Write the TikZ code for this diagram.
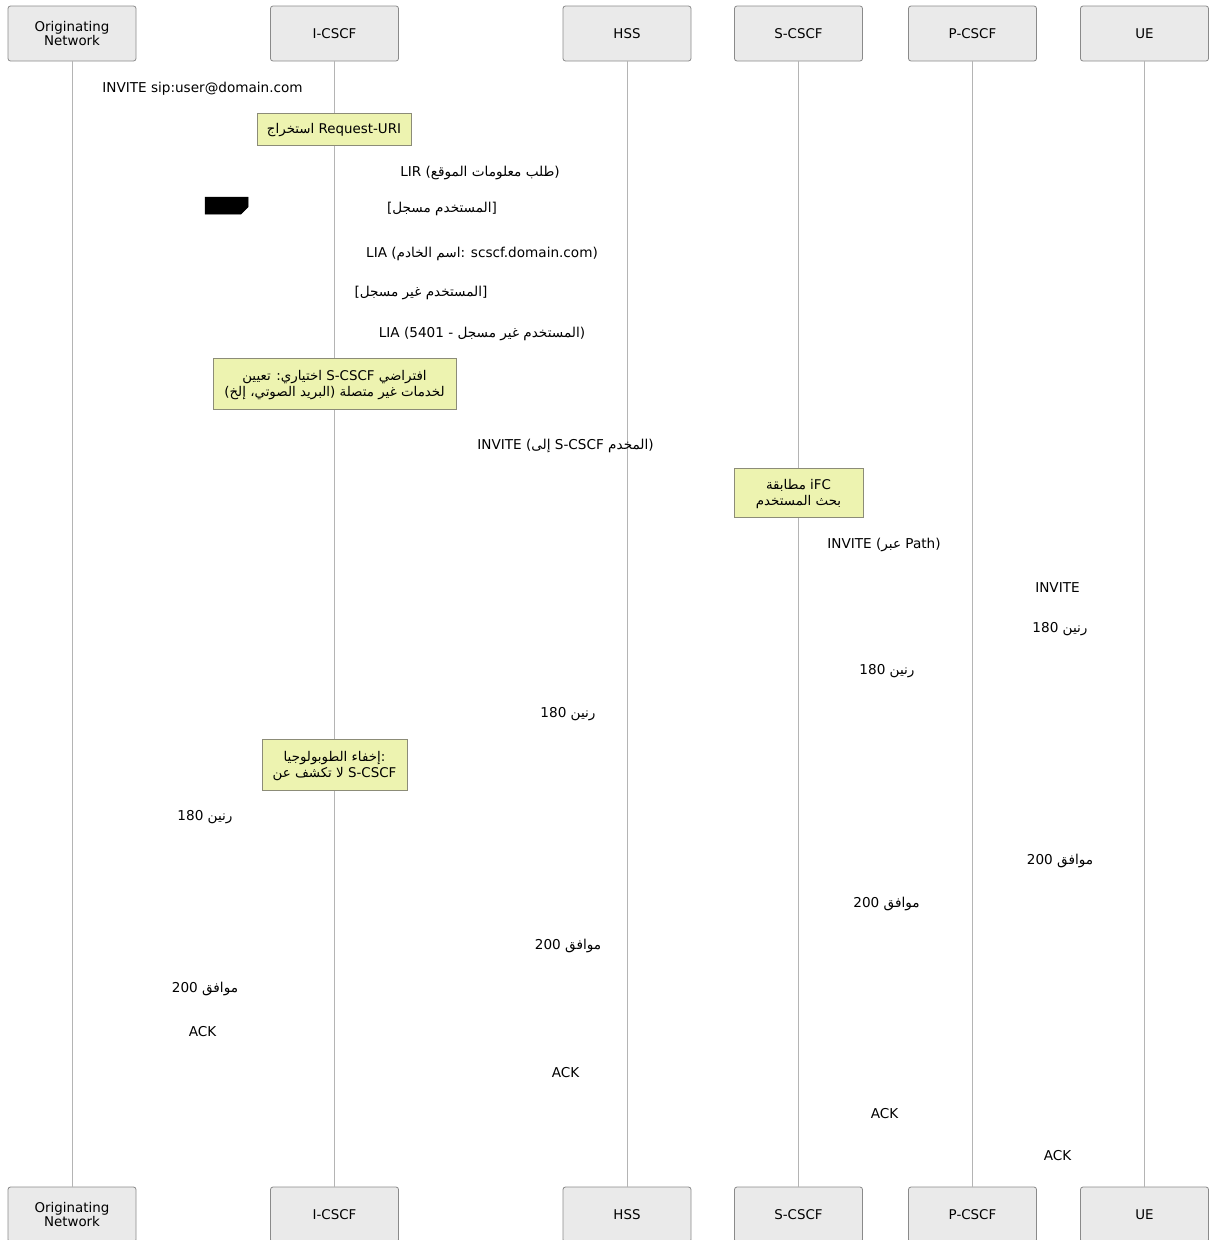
\documentclass[tikz,border=0pt]{standalone}
\usepackage{fontspec}
\setmainfont{DejaVu Sans}
\newfontfamily\arfont[Script=Arabic]{DejaVu Sans}
\TeXXeTstate=1
\definecolor{actorfill}{HTML}{EAEAEA}
\definecolor{actorline}{HTML}{8A8A8A}
\definecolor{lifeline}{HTML}{B4B4B4}
\definecolor{notefill}{HTML}{EDF3B0}
\definecolor{noteline}{HTML}{8C8C78}
\begin{document}
\begin{tikzpicture}[x=1pt,y=-1pt,
  actor/.style={draw=actorline, fill=actorfill, rounded corners=2.5pt, line width=0.8pt,
    minimum width=128pt, minimum height=55pt, inner sep=0pt, align=center,
    font=\fontsize{13.4}{12.5}\selectfont},
  life/.style={draw=lifeline, line width=1pt},
  notebox/.style={draw=noteline, fill=notefill, line width=0.8pt, inner sep=0pt},
  notetext/.style={inner sep=0pt, align=center, font=\fontsize{13.4}{16.5}\selectfont},
  msg/.style={inner sep=0pt, yshift=-1.5pt, font=\fontsize{13.6}{16}\selectfont},
  fragtag/.style={fill=black, draw=black, line width=0.5pt}]
\useasboundingbox (0,0) rectangle (1210,1240);

% participants, top row
\node[actor] (on)  at (72,33.5)   {Originating\\Network};
\node[actor] (ic)  at (334.5,33.5) {I-CSCF};
\node[actor] (hss) at (627,33.5)  {HSS};
\node[actor] (sc)  at (798.5,33.5) {S-CSCF};
\node[actor] (pc)  at (972.5,33.5) {P-CSCF};
\node[actor] (ue)  at (1144.5,33.5) {UE};
% participants, bottom row
\node[actor] (onB)  at (72,1214.5)   {Originating\\Network};
\node[actor] (icB)  at (334.5,1214.5) {I-CSCF};
\node[actor] (hssB) at (627,1214.5)  {HSS};
\node[actor] (scB)  at (798.5,1214.5) {S-CSCF};
\node[actor] (pcB)  at (972.5,1214.5) {P-CSCF};
\node[actor] (ueB)  at (1144.5,1214.5) {UE};

% lifelines
\foreach \a in {on,ic,hss,sc,pc,ue}
  \draw[life] (\a.south) -- (\a B.north);

% fragment tag
\filldraw[fragtag] (205,197) -- (248,197) -- (248,207) -- (241,214) -- (205,214) -- cycle;

% notes: box, then its text
\node[notebox, minimum width=154pt, minimum height=32pt] (n1) at (334,129) {};
\node[notetext] (t1) at ([yshift=-1.5pt]n1.center)
  {{\arfont\beginR استخراج\endR} Request-URI};
\node[notebox, minimum width=243pt, minimum height=51pt] (n2) at (334.5,383.5) {};
\node[notetext] (t2) at ([yshift=-1.5pt]n2.center)
  {{\arfont\beginR اختياري: تعيين\endR} S-CSCF {\arfont\beginR افتراضي\endR}\\
   ({\arfont\beginR البريد الصوتي، إلخ\endR}) {\arfont\beginR لخدمات غير متصلة\endR}};
\node[notebox, minimum width=129pt, minimum height=49pt] (n3) at (798.5,492.5) {};
\node[notetext] (t3) at ([yshift=-1.5pt]n3.center)
  {{\arfont\beginR مطابقة\endR} iFC\\ {\arfont\beginR بحث المستخدم\endR}};
\node[notebox, minimum width=145pt, minimum height=51pt] (n4) at (334.5,764.5) {};
\node[notetext] (t4) at ([yshift=-1.5pt]n4.center)
  {{\arfont\beginR إخفاء الطوبولوجيا\endR}:\\ {\arfont\beginR لا تكشف عن\endR} S-CSCF};

% message labels
\node[msg] (m1)  at (202.5,87)  {INVITE sip:user@domain.com};
\node[msg] (m2)  at (480,171)   {LIR ({\arfont\beginR طلب معلومات الموقع\endR})};
\node[msg] (g1)  at (442,207)   {[{\arfont\beginR المستخدم مسجل\endR}]};
\node[msg] (m3)  at (482,252)   {LIA ({\arfont\beginR اسم الخادم\endR}: scscf.domain.com)};
\node[msg] (g2)  at (421,291)   {[{\arfont\beginR المستخدم غير مسجل\endR}]};
\node[msg] (m4)  at (482,332)   {LIA ({\arfont\beginR المستخدم غير مسجل - \beginL 5401\endL\endR})};
\node[msg] (m5)  at (565.5,444) {INVITE ({\arfont\beginR إلى\endR} S-CSCF {\arfont\beginR المخدم\endR})};
\node[msg] (m6)  at (884,543)   {INVITE ({\arfont\beginR عبر\endR} Path)};
\node[msg] (m7)  at (1057.5,586) {INVITE};
\node[msg] (m8)  at (1060,628)  {180 {\arfont\beginR رنين\endR}};
\node[msg] (m9)  at (887,670)   {180 {\arfont\beginR رنين\endR}};
\node[msg] (m10) at (568,713)   {180 {\arfont\beginR رنين\endR}};
\node[msg] (m11) at (205,816)   {180 {\arfont\beginR رنين\endR}};
\node[msg] (m12) at (1060,859)  {200 {\arfont\beginR موافق\endR}};
\node[msg] (m13) at (886.5,902) {200 {\arfont\beginR موافق\endR}};
\node[msg] (m14) at (568,944)   {200 {\arfont\beginR موافق\endR}};
\node[msg] (m15) at (205,987)   {200 {\arfont\beginR موافق\endR}};
\node[msg] (m16) at (202.5,1030) {ACK};
\node[msg] (m17) at (565.5,1071) {ACK};
\node[msg] (m18) at (884.5,1112) {ACK};
\node[msg] (m19) at (1057.5,1154) {ACK};
\end{tikzpicture}
\end{document}
